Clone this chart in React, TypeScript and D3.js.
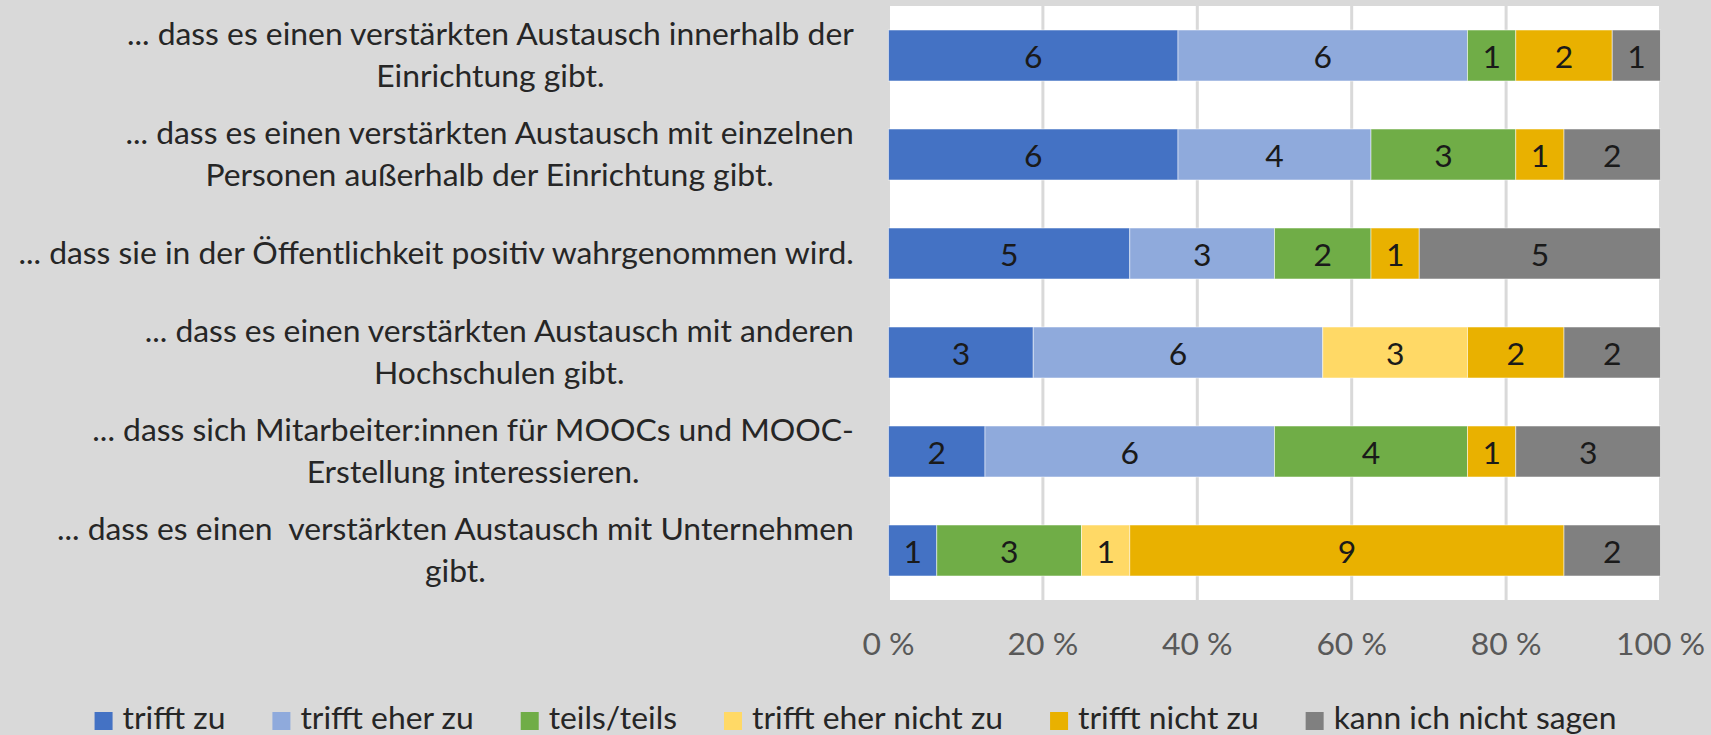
import React, { useEffect, useRef } from 'react';
import * as d3 from 'd3';

const categories: string[][] = [
  ['... dass es einen verstärkten Austausch innerhalb der', 'Einrichtung gibt.'],
  ['... dass es einen verstärkten Austausch mit einzelnen', 'Personen außerhalb der Einrichtung gibt.'],
  ['... dass sie in der Öffentlichkeit positiv wahrgenommen wird.'],
  ['... dass es einen verstärkten Austausch mit anderen', 'Hochschulen gibt.'],
  ['... dass sich Mitarbeiter:innen für MOOCs und MOOC-', 'Erstellung interessieren.'],
  ['... dass es einen  verstärkten Austausch mit Unternehmen', 'gibt.'],
];

const seriesNames = ['trifft zu', 'trifft eher zu', 'teils/teils', 'trifft eher nicht zu', 'trifft nicht zu', 'kann ich nicht sagen'];
const trifftZu = [6, 6, 5, 3, 2, 1];
const trifftEherZu = [6, 4, 3, 6, 6, 0];
const teilsTeils = [1, 3, 2, 0, 4, 3];
const trifftEherNichtZu = [0, 0, 0, 3, 0, 1];
const trifftNichtZu = [2, 1, 1, 2, 1, 9];
const kannNichtSagen = [1, 2, 5, 2, 3, 2];
const seriesColors = ['#4472C4', '#8FAADC', '#70AD47', '#FFD966', '#E9B100', '#808080'];
const tickValues = [0, 0.2, 0.4, 0.6, 0.8, 1];
const tickLabels = ['0 %', '20 %', '40 %', '60 %', '80 %', '100 %'];

const W = 1711;
const H = 735;
const FONT = 'Lato, "Open Sans", sans-serif';
const FS = 31;
const SX = 1.028;

export default function App() {
  const ref = useRef<SVGSVGElement>(null);

  useEffect(() => {
    const svg = d3.select(ref.current);
    svg.selectAll('*').remove();

    const series = [trifftZu, trifftEherZu, teilsTeils, trifftEherNichtZu, trifftNichtZu, kannNichtSagen];
    const rows = categories.map((_, i) => {
      const vals = series.map((s) => s[i]);
      const total = d3.sum(vals);
      let acc = 0;
      return vals.map((v, k) => {
        const seg = { k, v, x0: acc / total, x1: (acc + v) / total };
        acc += v;
        return seg;
      });
    });

    const x = d3.scaleLinear().domain([0, 1]).range([888.5, 1660.5]);
    const y = d3.scaleBand<number>().domain(d3.range(categories.length)).range([6, 600]).paddingInner(0.485).paddingOuter(0.2425);
    const bandTop = 6, bandBottom = 600;

    const place = (sel: any, px: number, py: number) => sel.attr('transform', `translate(${px},${py}) scale(${SX},1)`);

    svg.append('rect').attr('width', W).attr('height', H).attr('fill', '#D9D9D9');
    svg.append('rect').attr('x', x(0)).attr('y', bandTop).attr('width', x(1) - x(0)).attr('height', bandBottom - bandTop).attr('fill', '#FFFFFF');

    svg.append('g').selectAll('line').data(tickValues).join('line')
      .attr('x1', (d) => x(d)).attr('x2', (d) => x(d))
      .attr('y1', bandTop).attr('y2', bandBottom)
      .attr('stroke', '#D9D9D9').attr('stroke-width', 3);

    const rowG = svg.append('g').selectAll('g').data(rows).join('g')
      .attr('transform', (_, i) => `translate(0,${y(i)})`);

    rowG.selectAll('rect').data((d) => d.filter((s) => s.v > 0)).join('rect')
      .attr('x', (s) => x(s.x0)).attr('width', (s) => x(s.x1) - x(s.x0))
      .attr('y', 0).attr('height', y.bandwidth())
      .attr('fill', (s) => seriesColors[s.k])
      .attr('stroke', '#FFFFFF').attr('stroke-opacity', 0.5).attr('stroke-width', 1);

    rowG.selectAll('text').data((d) => d.filter((s) => s.v > 0)).join('text')
      .attr('transform', (s) => `translate(${(x(s.x0) + x(s.x1)) / 2},${y.bandwidth() / 2 + 12}) scale(${SX},1)`)
      .attr('text-anchor', 'middle')
      .attr('font-family', FONT).attr('font-size', FS).attr('fill', '#1A1A1A')
      .text((s) => String(s.v));

    // category labels
    const labelRight = 854;
    const lineH = 42;
    categories.forEach((lines, i) => {
      const cy = (y(i) as number) + y.bandwidth() / 2;
      const g = svg.append('g');
      const texts = lines.map((ln) =>
        g.append('text')
          .attr('text-anchor', 'middle')
          .attr('font-family', FONT).attr('font-size', FS).attr('fill', '#262626')
          .attr('xml:space', 'preserve')
          .style('white-space', 'pre')
          .text(ln)
      );
      const widths = texts.map((t) => (t.node() as SVGTextElement).getComputedTextLength() * SX);
      const maxW = d3.max(widths) || 0;
      texts.forEach((t, j) => place(t, labelRight - maxW / 2, cy + (j - (lines.length - 1) / 2) * lineH + 10));
    });

    // x tick labels
    svg.append('g').selectAll('text').data(tickValues).join('text')
      .attr('transform', (d) => `translate(${x(d)},655) scale(${SX},1)`)
      .attr('text-anchor', 'middle')
      .attr('font-family', FONT).attr('font-size', FS).attr('fill', '#595959')
      .text((_, i) => tickLabels[i]);

    // legend
    const sw = 18, swGap = 10, itemGap = 47;
    const lg = svg.append('g');
    const items = seriesNames.map((name, k) => {
      const g = lg.append('g');
      g.append('rect').attr('y', 712).attr('width', sw).attr('height', sw).attr('fill', seriesColors[k]);
      const t = g.append('text')
        .attr('font-family', FONT).attr('font-size', FS).attr('fill', '#262626').text(name);
      place(t, sw + swGap, 729);
      const w = (t.node() as SVGTextElement).getComputedTextLength() * SX;
      return { g, w: sw + swGap + w };
    });
    const total = d3.sum(items, (d) => d.w) + itemGap * (items.length - 1);
    let cx = W / 2 - total / 2;
    items.forEach((it) => {
      it.g.attr('transform', `translate(${cx},0)`);
      cx += it.w + itemGap;
    });
  }, []);

  return (
    <svg ref={ref} width={W} height={H} style={{ position: 'absolute', left: 0, top: 0, display: 'block' }} />
  );
}
